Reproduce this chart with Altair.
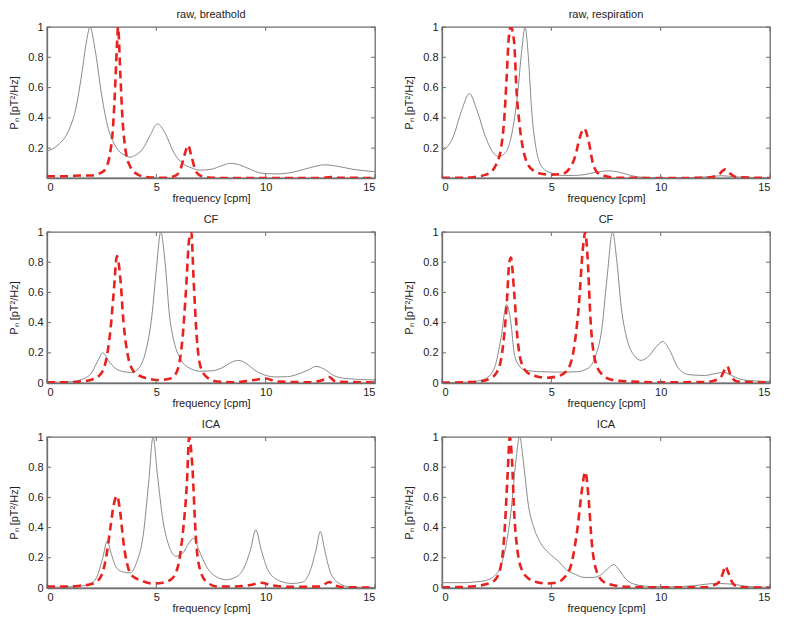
import altair as alt
import pandas as pd

TITLES = ["raw, breathold", "raw, respiration", "CF", "CF", "ICA", "ICA"]
XTICKS = [0, 5, 10, 15]
YTICKS_RAW = [0.2, 0.4, 0.6, 0.8, 1.0]
YTICKS_FULL = [0, 0.2, 0.4, 0.6, 0.8, 1.0]
YMIN_RAW = 0.003

# panel 1: raw, breathold
P1_GRAY_X = [0, 0.5, 1.0, 1.3, 1.6, 1.8, 1.97, 2.2, 2.5, 2.8, 3.0, 3.3, 3.6, 3.8, 4.0, 4.4, 4.7, 5.05, 5.4, 5.8, 6.2, 6.6, 7.0, 7.5, 8.0, 8.4, 8.8, 9.3, 9.8, 10.5, 11.0, 11.5, 12.0, 12.7, 13.3, 14.0, 15.0]
P1_GRAY_Y = [0.18, 0.22, 0.32, 0.45, 0.70, 0.90, 1.0, 0.85, 0.55, 0.33, 0.25, 0.18, 0.15, 0.14, 0.15, 0.20, 0.28, 0.36, 0.30, 0.17, 0.10, 0.07, 0.055, 0.06, 0.085, 0.10, 0.09, 0.06, 0.035, 0.03, 0.035, 0.05, 0.07, 0.09, 0.08, 0.06, 0.045]
P1_RED_X = [0, 1.0, 1.5, 2.0, 2.5, 2.7, 2.9, 3.0, 3.1, 3.2, 3.25, 3.35, 3.45, 3.6, 3.8, 4.1, 4.5, 5.0, 5.5, 5.9, 6.1, 6.3, 6.45, 6.6, 6.8, 7.0, 7.5, 8.0, 10.0, 12.5, 13.0, 13.3, 15.0]
P1_RED_Y = [0.015, 0.015, 0.02, 0.02, 0.04, 0.07, 0.18, 0.30, 0.55, 0.88, 1.0, 0.70, 0.40, 0.18, 0.08, 0.03, 0.01, 0.005, 0.005, 0.02, 0.06, 0.16, 0.22, 0.15, 0.05, 0.02, 0.005, 0.003, 0.003, 0.003, 0.01, 0.005, 0.003]

# panel 2: raw, respiration
P2_GRAY_X = [0, 0.5, 0.9, 1.25, 1.6, 2.0, 2.4, 2.6, 2.9, 3.2, 3.45, 3.65, 3.8, 3.95, 4.1, 4.3, 4.6, 5.0, 5.5, 6.0, 6.5, 7.0, 7.6, 8.0, 8.5, 9.0, 10.0, 11.0, 12.0, 12.8, 13.5, 15.0]
P2_GRAY_Y = [0.18, 0.27, 0.45, 0.56, 0.45, 0.27, 0.16, 0.145, 0.17, 0.30, 0.55, 0.85, 1.0, 0.80, 0.45, 0.20, 0.07, 0.035, 0.02, 0.02, 0.025, 0.04, 0.05, 0.045, 0.025, 0.01, 0.005, 0.005, 0.01, 0.018, 0.01, 0.005]
P2_RED_X = [0, 1.0, 1.5, 2.0, 2.3, 2.5, 2.7, 2.85, 2.95, 3.05, 3.15, 3.3, 3.4, 3.55, 3.7, 3.9, 4.2, 4.6, 5.0, 5.5, 5.8, 6.1, 6.3, 6.5, 6.7, 6.9, 7.1, 7.5, 8.0, 10.0, 12.0, 12.6, 12.95, 13.2, 13.5, 15.0]
P2_RED_Y = [0.005, 0.005, 0.01, 0.025, 0.05, 0.10, 0.20, 0.40, 0.65, 0.92, 1.0, 0.90, 0.60, 0.35, 0.20, 0.10, 0.05, 0.03, 0.025, 0.03, 0.06, 0.15, 0.27, 0.33, 0.25, 0.10, 0.04, 0.015, 0.005, 0.003, 0.004, 0.02, 0.06, 0.03, 0.008, 0.003]

# panel 3: CF (breathold)
P3_GRAY_X = [0, 1.0, 1.5, 2.0, 2.3, 2.55, 2.8, 3.1, 3.5, 3.9, 4.2, 4.5, 4.8, 5.0, 5.2, 5.4, 5.6, 5.8, 6.1, 6.5, 7.0, 7.5, 8.0, 8.4, 8.75, 9.1, 9.5, 10.0, 10.5, 11.0, 11.5, 12.0, 12.3, 12.7, 13.1, 13.7, 15.0]
P3_GRAY_Y = [0.005, 0.008, 0.02, 0.06, 0.14, 0.20, 0.15, 0.10, 0.075, 0.07, 0.10, 0.20, 0.45, 0.75, 1.0, 0.80, 0.45, 0.28, 0.16, 0.10, 0.078, 0.08, 0.10, 0.135, 0.15, 0.13, 0.085, 0.05, 0.04, 0.042, 0.06, 0.09, 0.11, 0.09, 0.05, 0.03, 0.02]
P3_RED_X = [0, 1.0, 1.5, 2.0, 2.4, 2.7, 2.9, 3.05, 3.2, 3.35, 3.5, 3.7, 3.9, 4.2, 4.6, 5.0, 5.5, 5.8, 6.0, 6.2, 6.35, 6.5, 6.6, 6.7, 6.85, 7.0, 7.3, 7.8, 8.5, 9.5, 10.0, 10.5, 12.0, 12.7, 12.9, 13.2, 15.0]
P3_RED_Y = [0.005, 0.005, 0.01, 0.02, 0.05, 0.15, 0.35, 0.60, 0.84, 0.70, 0.40, 0.18, 0.09, 0.05, 0.03, 0.02, 0.025, 0.045, 0.10, 0.30, 0.60, 0.95, 1.0, 0.70, 0.30, 0.12, 0.04, 0.01, 0.005, 0.02, 0.03, 0.01, 0.005, 0.025, 0.04, 0.01, 0.003]

# panel 4: CF (respiration)
P4_GRAY_X = [0, 1.0, 1.5, 2.0, 2.4, 2.7, 2.95, 3.15, 3.3, 3.5, 3.8, 4.5, 5.5, 6.2, 6.7, 7.0, 7.3, 7.55, 7.8, 8.0, 8.2, 8.5, 8.8, 9.1, 9.4, 9.8, 10.1, 10.4, 10.8, 11.3, 12.0, 12.6, 12.9, 13.3, 13.8, 15.0]
P4_GRAY_Y = [0.003, 0.005, 0.01, 0.03, 0.10, 0.30, 0.52, 0.40, 0.20, 0.12, 0.085, 0.075, 0.072, 0.075, 0.10, 0.17, 0.35, 0.70, 1.0, 0.80, 0.50, 0.27, 0.18, 0.15, 0.17, 0.24, 0.275, 0.22, 0.10, 0.055, 0.05, 0.065, 0.07, 0.045, 0.02, 0.01]
P4_RED_X = [0, 1.0, 1.7, 2.2, 2.5, 2.75, 2.95, 3.08, 3.15, 3.3, 3.45, 3.6, 3.9, 4.3, 4.8, 5.3, 5.7, 6.0, 6.25, 6.45, 6.55, 6.65, 6.8, 7.0, 7.3, 7.8, 8.5, 10.0, 12.0, 12.7, 13.05, 13.2, 13.5, 15.0]
P4_RED_Y = [0.003, 0.005, 0.01, 0.03, 0.07, 0.20, 0.50, 0.80, 0.83, 0.60, 0.30, 0.15, 0.07, 0.045, 0.035, 0.045, 0.08, 0.20, 0.50, 0.90, 1.0, 0.85, 0.40, 0.15, 0.06, 0.02, 0.01, 0.005, 0.006, 0.03, 0.11, 0.05, 0.01, 0.003]

# panel 5: ICA (breathold)
P5_GRAY_X = [0, 1.0, 1.5, 2.0, 2.3, 2.55, 2.75, 2.95, 3.15, 3.4, 3.8, 4.1, 4.4, 4.65, 4.85, 5.05, 5.3, 5.6, 5.9, 6.2, 6.5, 6.7, 6.95, 7.3, 7.8, 8.2, 8.6, 9.0, 9.3, 9.55, 9.8, 10.1, 10.6, 11.2, 11.7, 12.0, 12.3, 12.5, 12.7, 13.0, 13.5, 14.0, 15.0]
P5_GRAY_Y = [0.005, 0.008, 0.012, 0.03, 0.08, 0.20, 0.31, 0.22, 0.14, 0.11, 0.10, 0.17, 0.35, 0.70, 1.0, 0.75, 0.45, 0.27, 0.21, 0.23, 0.30, 0.33, 0.25, 0.14, 0.07, 0.055, 0.07, 0.13, 0.25, 0.385, 0.25, 0.12, 0.05, 0.03, 0.04, 0.10, 0.25, 0.375, 0.25, 0.09, 0.02, 0.005, 0.003]
P5_RED_X = [0, 1.0, 1.5, 2.0, 2.4, 2.7, 2.9, 3.05, 3.2, 3.35, 3.5, 3.7, 3.9, 4.3, 4.8, 5.3, 5.7, 6.0, 6.2, 6.4, 6.5, 6.65, 6.8, 7.0, 7.3, 7.8, 8.5, 9.3, 9.8, 10.2, 11.0, 12.5, 12.9, 13.2, 13.6, 15.0]
P5_RED_Y = [0.01, 0.01, 0.015, 0.025, 0.06, 0.20, 0.40, 0.55, 0.61, 0.50, 0.30, 0.14, 0.08, 0.05, 0.03, 0.035, 0.06, 0.15, 0.35, 0.70, 1.0, 0.80, 0.35, 0.12, 0.04, 0.01, 0.01, 0.02, 0.035, 0.02, 0.008, 0.01, 0.04, 0.015, 0.005, 0.003]

# panel 6: ICA (respiration)
P6_GRAY_X = [0, 1.0, 1.5, 2.0, 2.4, 2.7, 2.95, 3.15, 3.35, 3.55, 3.75, 3.95, 4.2, 4.5, 4.9, 5.3, 5.7, 6.1, 6.5, 6.9, 7.3, 7.6, 7.85, 8.1, 8.4, 8.8, 9.5, 10.5, 11.5, 12.5, 13.3, 14.0, 15.0]
P6_GRAY_Y = [0.035, 0.035, 0.04, 0.05, 0.08, 0.15, 0.30, 0.50, 0.80, 1.0, 0.80, 0.55, 0.40, 0.30, 0.23, 0.18, 0.12, 0.09, 0.07, 0.07, 0.09, 0.13, 0.155, 0.12, 0.06, 0.025, 0.01, 0.008, 0.015, 0.03, 0.025, 0.01, 0.005]
P6_RED_X = [0, 1.0, 1.5, 2.0, 2.4, 2.65, 2.85, 3.0, 3.1, 3.2, 3.3, 3.45, 3.65, 3.9, 4.3, 4.8, 5.2, 5.6, 5.9, 6.2, 6.4, 6.55, 6.7, 6.85, 7.05, 7.4, 7.8, 8.5, 10.0, 12.0, 12.6, 12.85, 12.95, 13.1, 13.3, 13.6, 15.0]
P6_RED_Y = [0.005, 0.007, 0.012, 0.025, 0.05, 0.12, 0.35, 0.75, 1.0, 0.85, 0.50, 0.25, 0.12, 0.07, 0.04, 0.03, 0.035, 0.07, 0.15, 0.40, 0.65, 0.77, 0.60, 0.30, 0.12, 0.04, 0.02, 0.008, 0.005, 0.005, 0.03, 0.10, 0.145, 0.10, 0.03, 0.005, 0.003]

W, H = 328, 151
TK = 4  # inner tick length (px)
GRAY = "#8a8a8a"
RED = "#e8221f"
FRAME = "#6e6e6e"
FONT = "Liberation Sans"


def panel(title, gx, gy, rx, ry, raw):
    ydom = [YMIN_RAW, 1] if raw else [0, 1]
    yt = YTICKS_RAW if raw else YTICKS_FULL
    xs = alt.Scale(domain=[0, 15], nice=False, zero=False)
    ys = alt.Scale(domain=ydom, nice=False, zero=False)
    xax = alt.Axis(values=XTICKS, title="frequency [cpm]", ticks=False, labelPadding=3,
                   titlePadding=0, grid=False, format="~g", labelOverlap=False)
    yax = alt.Axis(values=yt, title="Pₙ [pT²/Hz]", ticks=False, labelPadding=4,
                   titlePadding=8, grid=False, format="~g", labelOverlap=False)
    g = pd.DataFrame({"f": gx, "p": gy})
    r = pd.DataFrame({"f": rx, "p": ry})
    gline = alt.Chart(g).mark_line(color=GRAY, strokeWidth=1, clip=True, interpolate="monotone").encode(
        x=alt.X("f:Q", scale=xs, axis=xax), y=alt.Y("p:Q", scale=ys, axis=yax))
    rline = alt.Chart(r).mark_line(color=RED, strokeWidth=2.6, strokeDash=[8, 5], clip=True,
                                   interpolate="monotone").encode(
        x=alt.X("f:Q", scale=xs, axis=xax), y=alt.Y("p:Q", scale=ys, axis=yax))
    xt = pd.DataFrame({"f": XTICKS})
    yt_df = pd.DataFrame({"p": yt})
    tick_layers = []
    for y0, y1 in [(0, TK), (H - TK, H)]:
        tick_layers.append(alt.Chart(xt).mark_rule(strokeWidth=1, color=FRAME)
                           .encode(x=alt.X("f:Q", scale=xs, axis=xax), y=alt.value(y0), y2=alt.value(y1)))
    for x0, x1 in [(0, TK), (W - TK, W)]:
        tick_layers.append(alt.Chart(yt_df).mark_rule(strokeWidth=1, color=FRAME)
                           .encode(y=alt.Y("p:Q", scale=ys, axis=yax), x=alt.value(x0), x2=alt.value(x1)))
    return alt.layer(gline, rline, *tick_layers).properties(
        width=W, height=H,
        title=alt.TitleParams(title, fontSize=11, fontWeight="normal", font=FONT, color="#222", offset=1))


data = [
    (P1_GRAY_X, P1_GRAY_Y, P1_RED_X, P1_RED_Y, True),
    (P2_GRAY_X, P2_GRAY_Y, P2_RED_X, P2_RED_Y, True),
    (P3_GRAY_X, P3_GRAY_Y, P3_RED_X, P3_RED_Y, False),
    (P4_GRAY_X, P4_GRAY_Y, P4_RED_X, P4_RED_Y, False),
    (P5_GRAY_X, P5_GRAY_Y, P5_RED_X, P5_RED_Y, False),
    (P6_GRAY_X, P6_GRAY_Y, P6_RED_X, P6_RED_Y, False),
]
panels = [panel(TITLES[i], *data[i]) for i in range(6)]

rows = [alt.hconcat(panels[2 * k], panels[2 * k + 1], spacing=26) for k in range(3)]
chart = alt.vconcat(*rows, spacing=9).properties(padding=0).configure_view(
    stroke=FRAME, strokeWidth=1.3
).configure_axis(
    domainColor=FRAME, domainWidth=1.3, labelFont=FONT, titleFont=FONT, labelFontSize=11, titleFontSize=11,
    labelColor="#222", titleColor="#222", titleFontWeight="normal"
)

chart.save("out.html", embed_options={"renderer": "svg", "actions": False})
